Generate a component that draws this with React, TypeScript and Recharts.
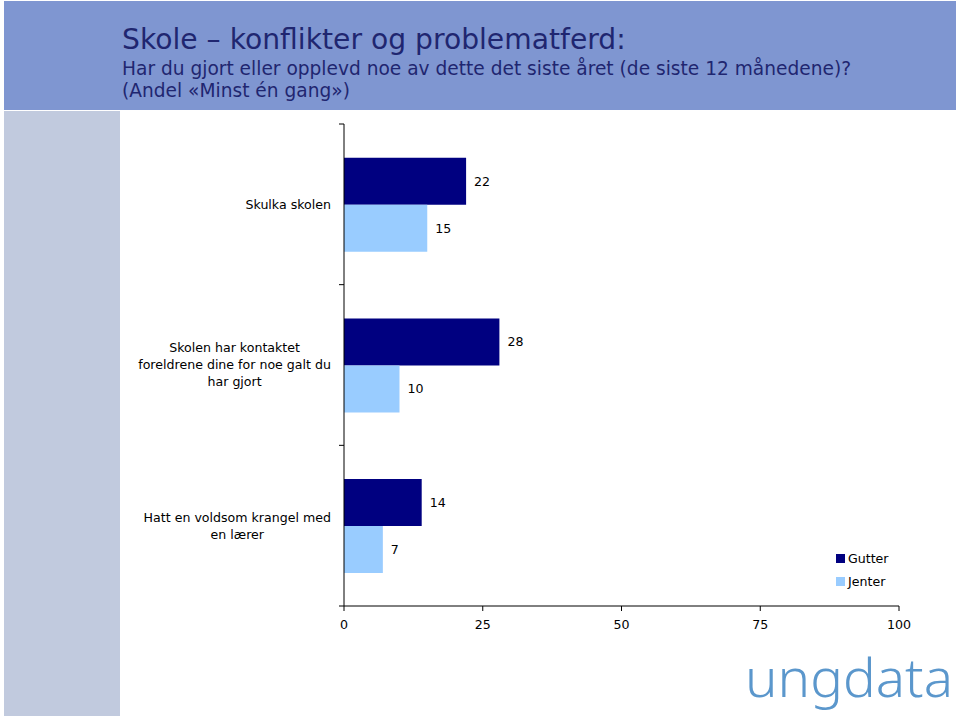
import { Bar, BarChart, LabelList, Legend, XAxis, YAxis } from "recharts";

const CATEGORIES = [
  "Skulka skolen",
  "Skolen har kontaktet\nforeldrene dine for noe galt du\nhar gjort",
  "Hatt en voldsom krangel med\nen lærer",
];
const GUTTER = [22, 28, 14];
const JENTER = [15, 10, 7];
const X_TICKS = [0, 25, 50, 75, 100];

const TITLE = "Skole – konflikter og problematferd:";
const SUBTITLE = "Har du gjort eller opplevd noe av dette det siste året (de siste 12 månedene)?";
const SUBTITLE_2 = "(Andel «Minst én gang»)";

const FONT = "'DejaVu Sans', Verdana, sans-serif";
const FS = 12.6;
const NAVY = "#000080";
const LIGHT = "#99ccff";
const TICK_MARGIN = 13;

const data = CATEGORIES.map((name, i) => ({
  name,
  gutter: GUTTER[i],
  jenter: JENTER[i],
}));

let ctx: CanvasRenderingContext2D | null = null;
function textWidth(s: string) {
  if (!ctx) ctx = document.createElement("canvas").getContext("2d");
  if (!ctx) return s.length * 7;
  ctx.font = `${FS}px ${FONT}`;
  return ctx.measureText(s).width;
}

// label text centred line by line, right edge at the tick position,
// plus Excel-style tick marks on the band borders
function CategoryTick({ x, y, payload, index, visibleTicksCount }: any) {
  const lines = String(payload.value).split("\n");
  const w = Math.max(...lines.map(textWidth));
  const cx = x - w / 2;
  const lh = 17;
  const top = y - ((lines.length - 1) * lh) / 2;
  const ax = x + TICK_MARGIN;
  const half = payload.offset ?? 0;
  const last = index === (visibleTicksCount ?? CATEGORIES.length) - 1;
  return (
    <g>
      <line x1={ax - 5} x2={ax} y1={y - half} y2={y - half} stroke="#000" />
      {last && <line x1={ax - 5} x2={ax} y1={y + half} y2={y + half} stroke="#000" />}
      <text textAnchor="middle" fontSize={FS} fontFamily={FONT} fill="#000">
        {lines.map((l, i) => (
          <tspan key={i} x={cx} y={top + i * lh} dy="0.35em">
            {l}
          </tspan>
        ))}
      </text>
    </g>
  );
}

function LegendBox({ payload }: any) {
  return (
    <div style={{ fontFamily: FONT, fontSize: FS, color: "#000" }}>
      {(payload || []).map((p: any) => (
        <div key={p.value} style={{ display: "flex", alignItems: "center", height: 23 }}>
          <span style={{ width: 9, height: 9, background: p.color, marginRight: 3 }} />
          {p.value}
        </div>
      ))}
    </div>
  );
}

export default function App() {
  return (
    <div style={{ position: "relative", width: 960, height: 716, background: "#fff" }}>
      <style>{"body{margin:0}"}</style>
      <svg width={960} height={716} style={{ position: "absolute", left: 0, top: 0 }}>
        <rect x={4} y={1} width={952} height={109} fill="#7f96d1" />
        <rect x={4} y={111} width={116} height={605} fill="#c1cade" />
        <text x={122} y={49} fontFamily={FONT} fontSize={28.2} fill="#1f2670">
          {TITLE}
        </text>
        <text x={122} y={75} fontFamily={FONT} fontSize={18.6} fill="#1f2670">
          {SUBTITLE}
        </text>
        <text x={122} y={97} fontFamily={FONT} fontSize={18.6} fill="#1f2670">
          {SUBTITLE_2}
        </text>
        <text
          x={745}
          y={697}
          fontFamily="'Noto Sans', sans-serif"
          fontWeight={300}
          fontSize={54}
          textLength={208}
          lengthAdjust="spacingAndGlyphs"
          fill="#5b97cc"
        >
          ungdata
        </text>
      </svg>
      <div style={{ position: "absolute", left: 0, top: 0 }}>
        <BarChart
          width={960}
          height={716}
          data={data}
          layout="vertical"
          margin={{ top: 124, right: 61, bottom: 80, left: 0 }}
          barCategoryGap="21%"
          barGap={0}
        >
          <XAxis
            type="number"
            domain={[0, 100]}
            ticks={X_TICKS}
            height={30}
            tickSize={5}
            tickMargin={9}
            stroke="#000"
            tick={{ fill: "#000", fontSize: FS, fontFamily: FONT }}
          />
          <YAxis
            type="category"
            dataKey="name"
            width={344}
            stroke="#000"
            tickLine={false}
            tickSize={0}
            tickMargin={TICK_MARGIN}
            tick={<CategoryTick />}
          />
          <Legend
            layout="horizontal"
            verticalAlign="middle"
            align="center"
            content={<LegendBox />}
            wrapperStyle={{ left: 836, top: 547, width: 100 }}
          />
          <Bar dataKey="gutter" name="Gutter" fill={NAVY} isAnimationActive={false}>
            <LabelList
              dataKey="gutter"
              position="right"
              offset={8}
              fill="#000"
              fontSize={FS}
              fontFamily={FONT}
            />
          </Bar>
          <Bar dataKey="jenter" name="Jenter" fill={LIGHT} isAnimationActive={false}>
            <LabelList
              dataKey="jenter"
              position="right"
              offset={8}
              fill="#000"
              fontSize={FS}
              fontFamily={FONT}
            />
          </Bar>
        </BarChart>
      </div>
    </div>
  );
}
